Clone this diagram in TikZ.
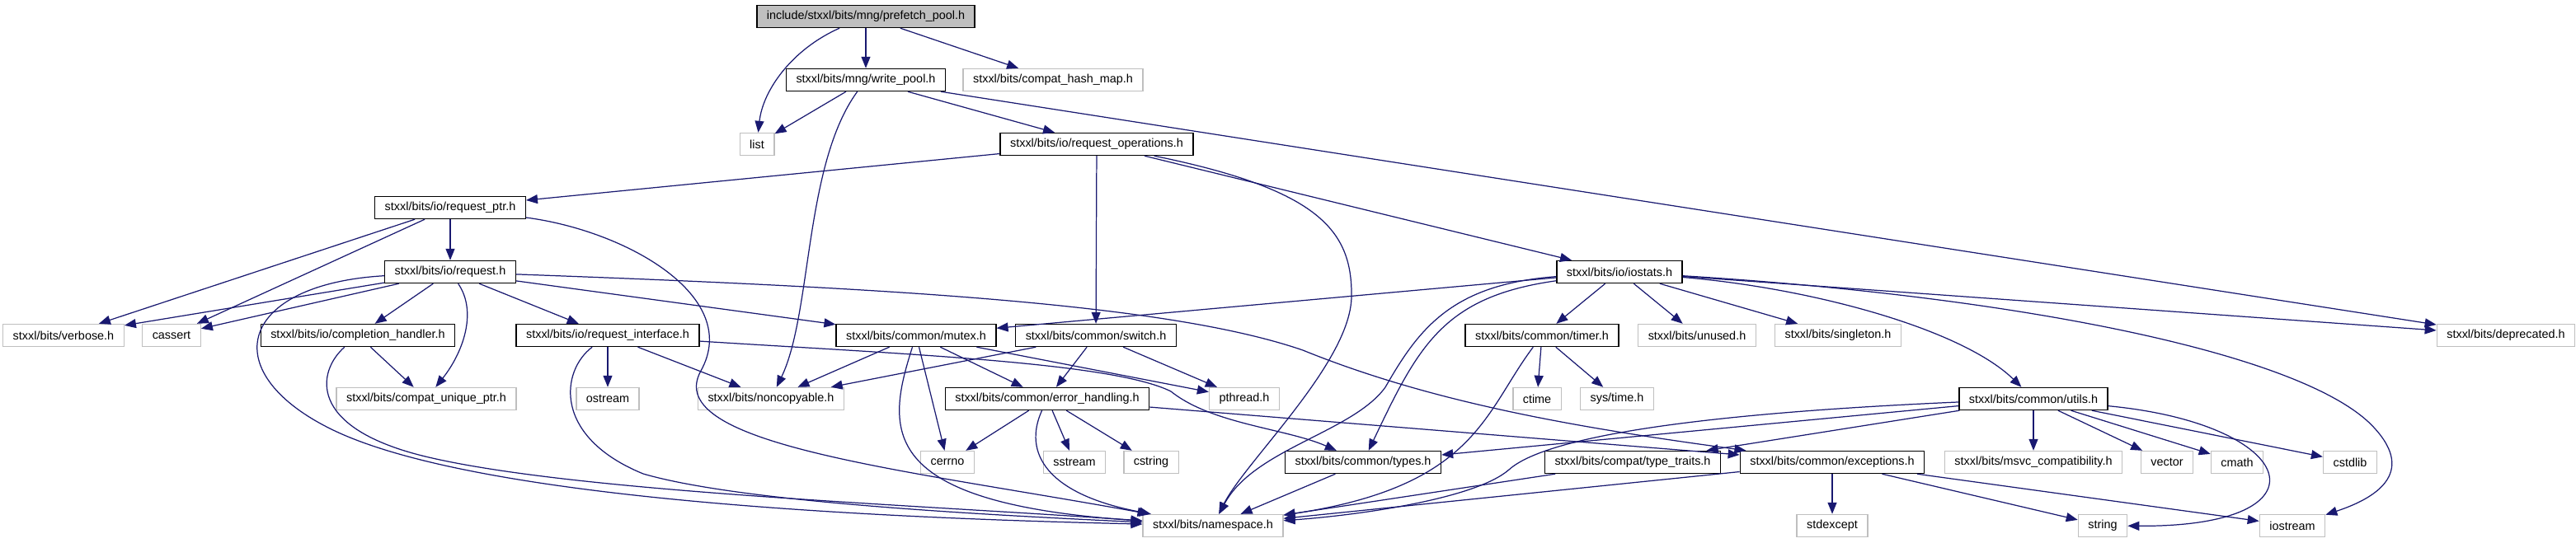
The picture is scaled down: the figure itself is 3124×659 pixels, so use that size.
\documentclass[tikz,border=0pt]{standalone}
\usepackage{fontspec}
\setmainfont{Liberation Sans}
\usetikzlibrary{arrows.meta}
\definecolor{edgeblue}{HTML}{191970}
\definecolor{extgray}{HTML}{BFBFBF}

\begin{document}
\begin{tikzpicture}[
    x=0.02cm, y=0.02cm,
    file/.style={rectangle, draw=black, line width=0.8pt, fill=white, minimum height=0.54cm, inner xsep=0.24cm, inner ysep=0pt, font=\fontsize{8.2}{10}\selectfont},
    extfile/.style={file, draw=extgray},
    rootfile/.style={file, fill=extgray},
    dep/.style={-{Triangle[length=0.28cm, width=0.22cm]}, draw=edgeblue, line width=0.7pt}
]
    \useasboundingbox (0,0) rectangle (3124,-659);

    % Level 0 and 1
    \node[rootfile] (prefetch) at (1050,-20) {include/stxxl/bits/mng/prefetch\_pool.h};
    \node[file] (writepool) at (1050,-97) {stxxl/bits/mng/write\_pool.h};
    \node[extfile] (hashmap) at (1277,-97) {stxxl/bits/compat\_hash\_map.h};

    % Level 2 to 4
    \node[extfile] (list) at (918,-175) {list};
    \node[file] (reqops) at (1330,-175) {stxxl/bits/io/request\_operations.h};
    \node[file] (reqptr) at (546,-252) {stxxl/bits/io/request\_ptr.h};
    \node[file] (request) at (546,-330) {stxxl/bits/io/request.h};
    \node[file] (iostats) at (1964,-330) {stxxl/bits/io/iostats.h};

    % Level 5
    \node[extfile] (verbose) at (77,-407) {stxxl/bits/verbose.h};
    \node[extfile] (cassert) at (208,-407) {cassert};
    \node[file] (complhandler) at (434,-407) {stxxl/bits/io/completion\_handler.h};
    \node[file] (reqiface) at (737,-407) {stxxl/bits/io/request\_interface.h};
    \node[file] (mutex) at (1111,-407) {stxxl/bits/common/mutex.h};
    \node[file] (switch) at (1329,-407) {stxxl/bits/common/switch.h};
    \node[file] (timer) at (1870,-407) {stxxl/bits/common/timer.h};
    \node[extfile] (unused) at (2058,-407) {stxxl/bits/unused.h};
    \node[extfile] (singleton) at (2229,-407) {stxxl/bits/singleton.h};
    \node[extfile] (deprecated) at (3039,-407) {stxxl/bits/deprecated.h};

    % Level 6
    \node[extfile] (uniqueptr) at (517,-484) {stxxl/bits/compat\_unique\_ptr.h};
    \node[extfile] (ostream) at (737,-484) {ostream};
    \node[extfile] (noncopyable) at (935,-484) {stxxl/bits/noncopyable.h};
    \node[file] (errhandling) at (1270,-484) {stxxl/bits/common/error\_handling.h};
    \node[extfile] (pthread) at (1509,-484) {pthread.h};
    \node[extfile] (ctime) at (1864,-484) {ctime};
    \node[extfile] (systime) at (1961,-484) {sys/time.h};
    \node[file] (utils) at (2466,-484) {stxxl/bits/common/utils.h};

    % Level 7
    \node[extfile] (cerrno) at (1149,-561) {cerrno};
    \node[extfile] (sstream) at (1303,-561) {sstream};
    \node[extfile] (cstring) at (1396,-561) {cstring};
    \node[file] (types) at (1653,-561) {stxxl/bits/common/types.h};
    \node[file] (typetraits) at (1980,-561) {stxxl/bits/compat/type\_traits.h};
    \node[file] (exceptions) at (2222,-561) {stxxl/bits/common/exceptions.h};
    \node[extfile] (msvc) at (2466,-561) {stxxl/bits/msvc\_compatibility.h};
    \node[extfile] (vector) at (2628,-561) {vector};
    \node[extfile] (cmath) at (2713,-561) {cmath};
    \node[extfile] (cstdlib) at (2850,-561) {cstdlib};

    % Level 8
    \node[extfile] (namespace) at (1471,-638) {stxxl/bits/namespace.h};
    \node[extfile] (stdexcept) at (2222,-638) {stdexcept};
    \node[extfile] (string) at (2550,-638) {string};
    \node[extfile] (iostream) at (2780,-638) {iostream};

    % prefetch_pool.h and write_pool.h
    \draw[dep] (prefetch) .. controls (960,-60) and (925,-110) .. (list);
    \draw[dep] (prefetch) -- (writepool);
    \draw[dep] (prefetch) -- (hashmap);
    \draw[dep] (writepool) -- (list);
    \draw[dep] (writepool) .. controls (975,-200) and (985,-380) .. (noncopyable);
    \draw[dep] (writepool) -- (reqops);
    \draw[dep] (writepool) -- (deprecated);

    % request_operations.h
    \draw[dep] (reqops) -- (reqptr);
    \draw[dep] (reqops) -- (switch);
    \draw[dep] (reqops) .. controls (1600,-230) and (1640,-280) .. (1639,-360) .. controls (1638,-440) and (1510,-560) .. (namespace);
    \draw[dep] (reqops) -- (iostats);

    % request_ptr.h
    \draw[dep] (reqptr) -- (verbose);
    \draw[dep] (reqptr) -- (cassert);
    \draw[dep] (reqptr) -- (request);
    \draw[dep] (reqptr) .. controls (760,-280) and (900,-360) .. (850,-450) .. controls (800,-540) and (1100,-570) .. (namespace);

    % request.h
    \draw[dep] (request) -- (verbose);
    \draw[dep] (request) -- (cassert);
    \draw[dep] (request) -- (complhandler);
    \draw[dep] (request) .. controls (580,-380) and (560,-430) .. (uniqueptr);
    \draw[dep] (request) -- (reqiface);
    \draw[dep] (request) -- (mutex);
    \draw[dep] (request) .. controls (1100,-350) and (1420,-370) .. (1580,-425) .. controls (1740,-490) and (1920,-520) .. (exceptions);
    \draw[dep] (request) .. controls (290,-345) and (260,-450) .. (400,-520) .. controls (540,-590) and (900,-625) .. (namespace);

    % completion_handler.h and request_interface.h
    \draw[dep] (complhandler) -- (uniqueptr);
    \draw[dep] (complhandler) .. controls (385,-450) and (370,-520) .. (520,-555) .. controls (700,-597) and (1100,-612) .. (namespace);
    \draw[dep] (reqiface) -- (ostream);
    \draw[dep] (reqiface) -- (noncopyable);
    \draw[dep] (reqiface) .. controls (680,-450) and (670,-530) .. (780,-575) .. controls (900,-610) and (1200,-625) .. (namespace);
    \draw[dep] (reqiface) .. controls (1100,-430) and (1350,-440) .. (1420,-475) .. controls (1470,-515) and (1560,-520) .. (types);

    % mutex.h and switch.h
    \draw[dep] (mutex) -- (noncopyable);
    \draw[dep] (mutex) -- (errhandling);
    \draw[dep] (mutex) -- (cerrno);
    \draw[dep] (mutex) .. controls (1075,-520) and (1060,-610) .. (namespace);
    \draw[dep] (mutex) -- (pthread);
    \draw[dep] (switch) -- (noncopyable);
    \draw[dep] (switch) -- (errhandling);
    \draw[dep] (switch) -- (pthread);

    % error_handling.h
    \draw[dep] (errhandling) -- (cerrno);
    \draw[dep] (errhandling) -- (sstream);
    \draw[dep] (errhandling) -- (cstring);
    \draw[dep] (errhandling) .. controls (1240,-550) and (1270,-600) .. (namespace);
    \draw[dep] (errhandling) -- (exceptions);

    % iostats.h
    \draw[dep] (iostats) -- (mutex);
    \draw[dep] (iostats) .. controls (1760,-345) and (1720,-400) .. (1680,-470) .. controls (1640,-525) and (1520,-545) .. (namespace);
    \draw[dep] (iostats) .. controls (1750,-360) and (1720,-420) .. (types);
    \draw[dep] (iostats) -- (timer);
    \draw[dep] (iostats) -- (unused);
    \draw[dep] (iostats) -- (singleton);
    \draw[dep] (iostats) -- (deprecated);
    \draw[dep] (iostats) .. controls (2200,-350) and (2380,-400) .. (utils);
    \draw[dep] (iostats) .. controls (2450,-360) and (2800,-430) .. (2880,-520) .. controls (2930,-575) and (2880,-605) .. (iostream);

    % timer.h
    \draw[dep] (timer) -- (ctime);
    \draw[dep] (timer) -- (systime);
    \draw[dep] (timer) .. controls (1800,-500) and (1790,-590) .. (namespace);

    % types.h, type_traits.h and exceptions.h
    \draw[dep] (types) -- (namespace);
    \draw[dep] (typetraits) -- (namespace);
    \draw[dep] (exceptions) -- (namespace);
    \draw[dep] (exceptions) -- (stdexcept);
    \draw[dep] (exceptions) -- (string);
    \draw[dep] (exceptions) -- (iostream);

    % utils.h
    \draw[dep] (utils) .. controls (2100,-500) and (1880,-525) .. (1830,-570) .. controls (1790,-605) and (1650,-625) .. (namespace);
    \draw[dep] (utils) -- (types);
    \draw[dep] (utils) -- (typetraits);
    \draw[dep] (utils) -- (msvc);
    \draw[dep] (utils) -- (vector);
    \draw[dep] (utils) -- (cmath);
    \draw[dep] (utils) -- (cstdlib);
    \draw[dep] (utils) .. controls (2790,-515) and (2830,-640) .. (string);

\end{tikzpicture}
\end{document}
